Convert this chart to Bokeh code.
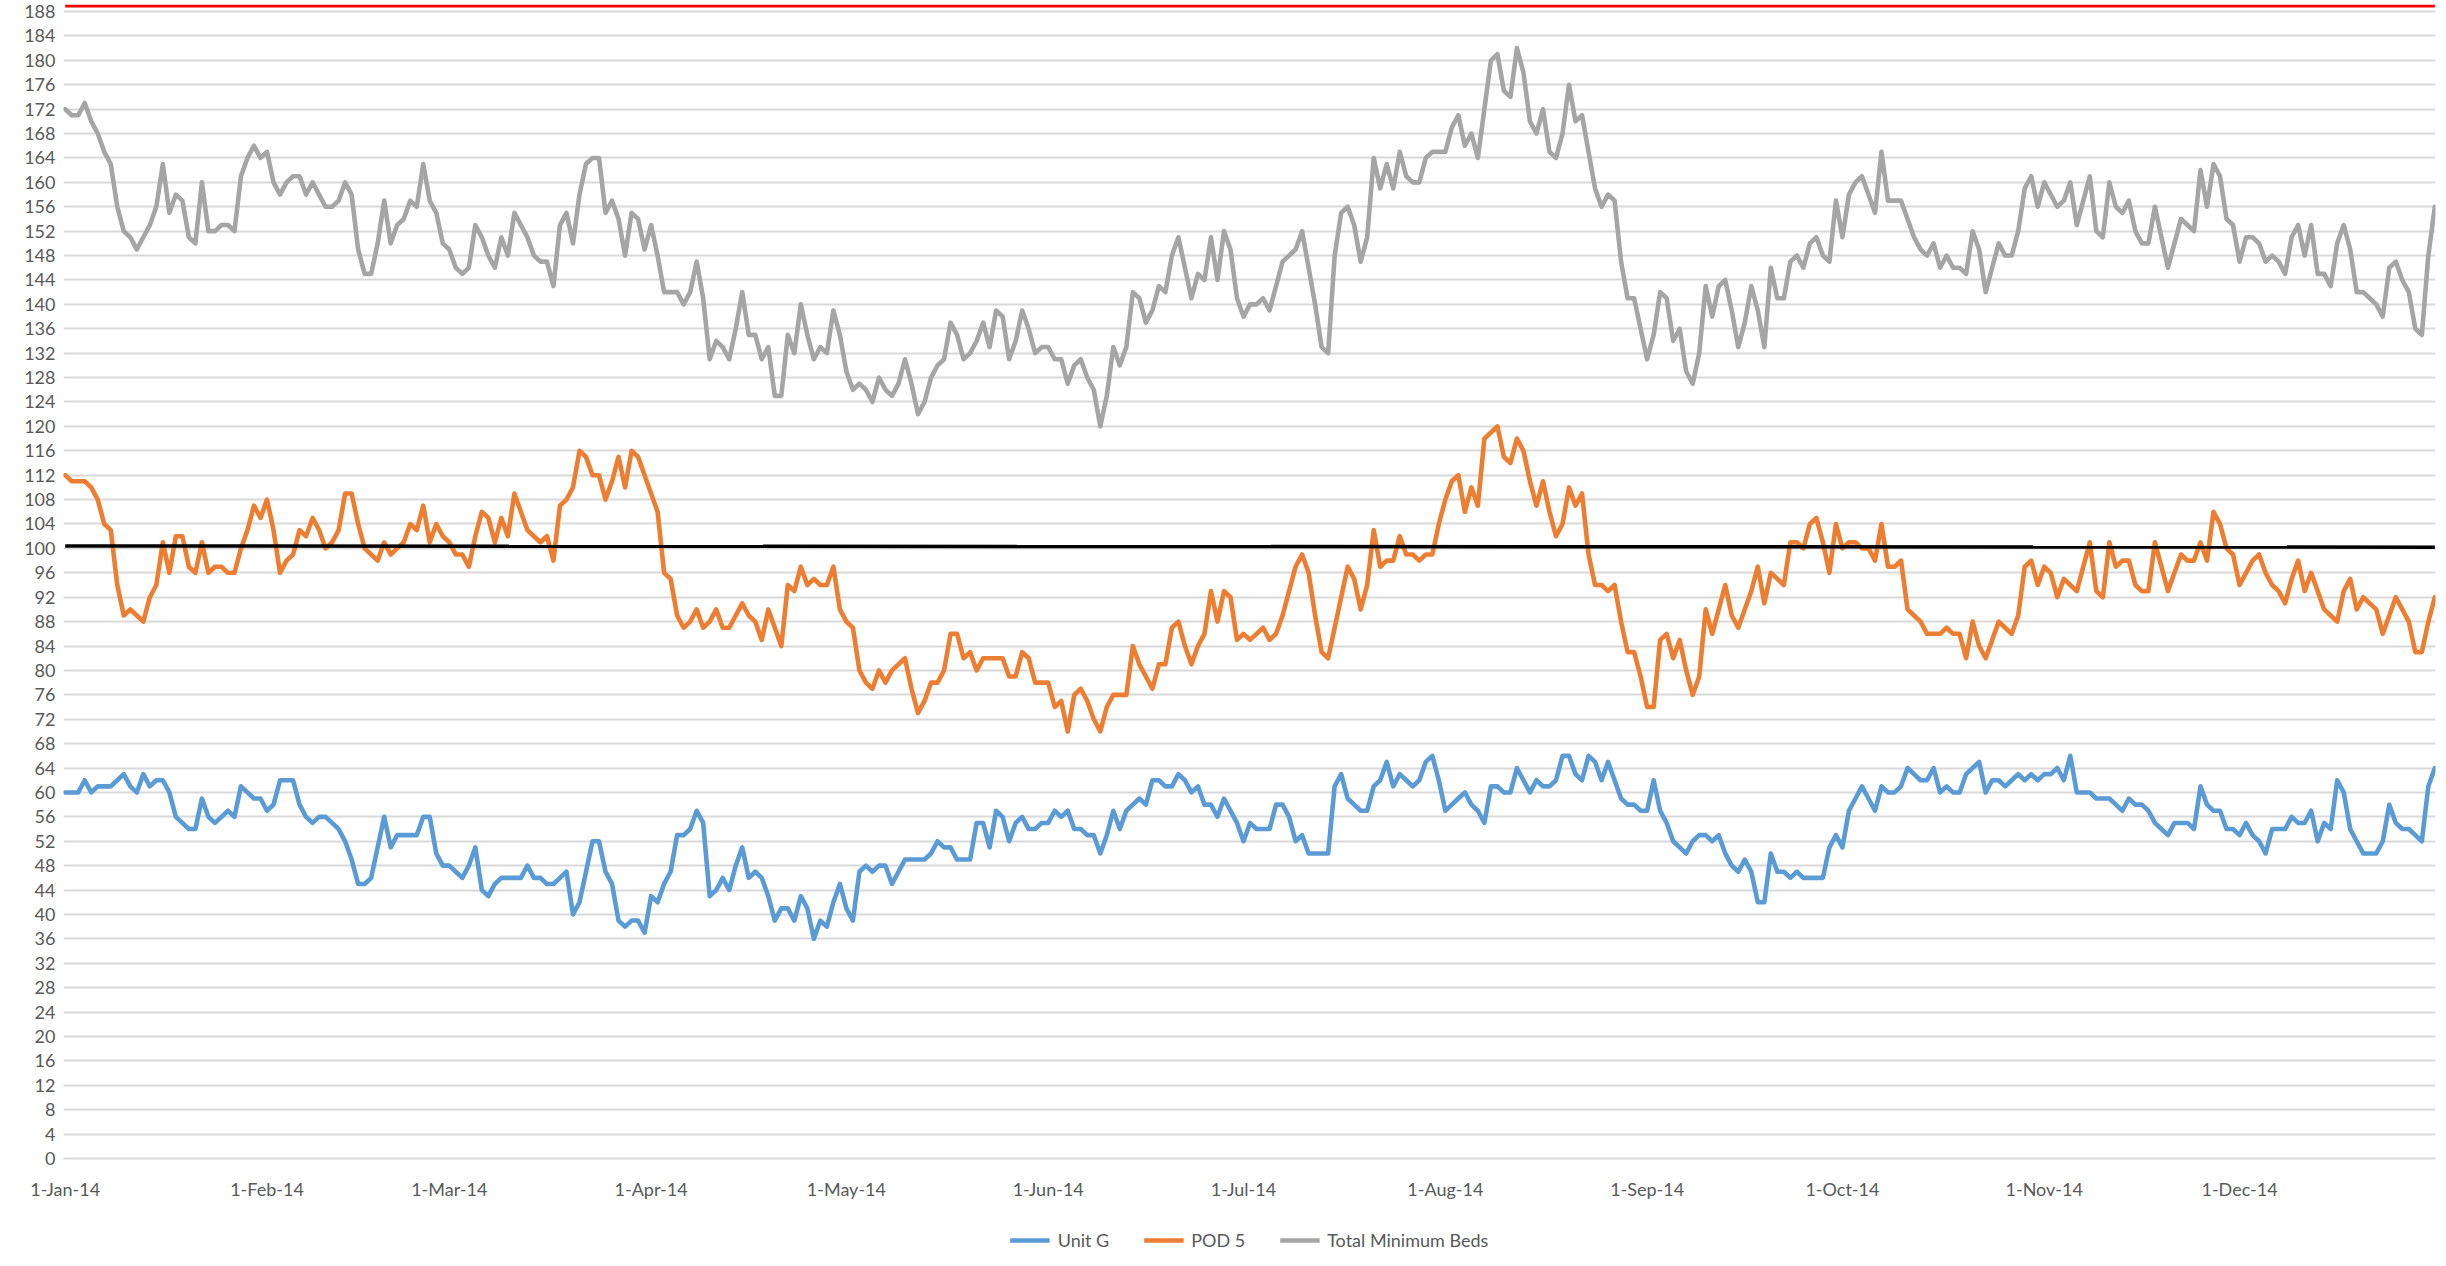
import numpy as np
import pandas as pd
from bokeh.plotting import figure
from bokeh.layouts import column
from bokeh.models import Range1d, FixedTicker, Legend, LegendItem, ColumnDataSource
from bokeh.embed import file_html
from bokeh.resources import INLINE

# ---------------- data (daily, 2014) ----------------
start_date = "2014-01-01"

unit_g = [
    60, 60, 60, 62, 60, 61, 61, 61, 62, 63,
    61, 60, 63, 61, 62, 62, 60, 56, 55, 54,
    54, 59, 56, 55, 56, 57, 56, 61, 60, 59,
    59, 57, 58, 62, 62, 62, 58, 56, 55, 56,
    56, 55, 54, 52, 49, 45, 45, 46, 51, 56,
    51, 53, 53, 53, 53, 56, 56, 50, 48, 48,
    47, 46, 48, 51, 44, 43, 45, 46, 46, 46,
    46, 48, 46, 46, 45, 45, 46, 47, 40, 42,
    47, 52, 52, 47, 45, 39, 38, 39, 39, 37,
    43, 42, 45, 47, 53, 53, 54, 57, 55, 43,
    44, 46, 44, 48, 51, 46, 47, 46, 43, 39,
    41, 41, 39, 43, 41, 36, 39, 38, 42, 45,
    41, 39, 47, 48, 47, 48, 48, 45, 47, 49,
    49, 49, 49, 50, 52, 51, 51, 49, 49, 49,
    55, 55, 51, 57, 56, 52, 55, 56, 54, 54,
    55, 55, 57, 56, 57, 54, 54, 53, 53, 50,
    53, 57, 54, 57, 58, 59, 58, 62, 62, 61,
    61, 63, 62, 60, 61, 58, 58, 56, 59, 57,
    55, 52, 55, 54, 54, 54, 58, 58, 56, 52,
    53, 50, 50, 50, 50, 61, 63, 59, 58, 57,
    57, 61, 62, 65, 61, 63, 62, 61, 62, 65,
    66, 62, 57, 58, 59, 60, 58, 57, 55, 61,
    61, 60, 60, 64, 62, 60, 62, 61, 61, 62,
    66, 66, 63, 62, 66, 65, 62, 65, 62, 59,
    58, 58, 57, 57, 62, 57, 55, 52, 51, 50,
    52, 53, 53, 52, 53, 50, 48, 47, 49, 47,
    42, 42, 50, 47, 47, 46, 47, 46, 46, 46,
    46, 51, 53, 51, 57, 59, 61, 59, 57, 61,
    60, 60, 61, 64, 63, 62, 62, 64, 60, 61,
    60, 60, 63, 64, 65, 60, 62, 62, 61, 62,
    63, 62, 63, 62, 63, 63, 64, 62, 66, 60,
    60, 60, 59, 59, 59, 58, 57, 59, 58, 58,
    57, 55, 54, 53, 55, 55, 55, 54, 61, 58,
    57, 57, 54, 54, 53, 55, 53, 52, 50, 54,
    54, 54, 56, 55, 55, 57, 52, 55, 54, 62,
    60, 54, 52, 50, 50, 50, 52, 58, 55, 54,
    54, 53, 52, 61, 64,
]

pod_5 = [
    112, 111, 111, 111, 110, 108, 104, 103, 94, 89,
    90, 89, 88, 92, 94, 101, 96, 102, 102, 97,
    96, 101, 96, 97, 97, 96, 96, 100, 103, 107,
    105, 108, 103, 96, 98, 99, 103, 102, 105, 103,
    100, 101, 103, 109, 109, 104, 100, 99, 98, 101,
    99, 100, 101, 104, 103, 107, 101, 104, 102, 101,
    99, 99, 97, 102, 106, 105, 101, 105, 102, 109,
    106, 103, 102, 101, 102, 98, 107, 108, 110, 116,
    115, 112, 112, 108, 111, 115, 110, 116, 115, 112,
    109, 106, 96, 95, 89, 87, 88, 90, 87, 88,
    90, 87, 87, 89, 91, 89, 88, 85, 90, 87,
    84, 94, 93, 97, 94, 95, 94, 94, 97, 90,
    88, 87, 80, 78, 77, 80, 78, 80, 81, 82,
    77, 73, 75, 78, 78, 80, 86, 86, 82, 83,
    80, 82, 82, 82, 82, 79, 79, 83, 82, 78,
    78, 78, 74, 75, 70, 76, 77, 75, 72, 70,
    74, 76, 76, 76, 84, 81, 79, 77, 81, 81,
    87, 88, 84, 81, 84, 86, 93, 88, 93, 92,
    85, 86, 85, 86, 87, 85, 86, 89, 93, 97,
    99, 96, 89, 83, 82, 87, 92, 97, 95, 90,
    94, 103, 97, 98, 98, 102, 99, 99, 98, 99,
    99, 104, 108, 111, 112, 106, 110, 107, 118, 119,
    120, 115, 114, 118, 116, 111, 107, 111, 106, 102,
    104, 110, 107, 109, 99, 94, 94, 93, 94, 88,
    83, 83, 79, 74, 74, 85, 86, 82, 85, 80,
    76, 79, 90, 86, 90, 94, 89, 87, 90, 93,
    97, 91, 96, 95, 94, 101, 101, 100, 104, 105,
    101, 96, 104, 100, 101, 101, 100, 100, 98, 104,
    97, 97, 98, 90, 89, 88, 86, 86, 86, 87,
    86, 86, 82, 88, 84, 82, 85, 88, 87, 86,
    89, 97, 98, 94, 97, 96, 92, 95, 94, 93,
    97, 101, 93, 92, 101, 97, 98, 98, 94, 93,
    93, 101, 97, 93, 96, 99, 98, 98, 101, 98,
    106, 104, 100, 99, 94, 96, 98, 99, 96, 94,
    93, 91, 95, 98, 93, 96, 93, 90, 89, 88,
    93, 95, 90, 92, 91, 90, 86, 89, 92, 90,
    88, 83, 83, 88, 92,
]

total_minimum_beds = [
    172, 171, 171, 173, 170, 168, 165, 163, 156, 152,
    151, 149, 151, 153, 156, 163, 155, 158, 157, 151,
    150, 160, 152, 152, 153, 153, 152, 161, 164, 166,
    164, 165, 160, 158, 160, 161, 161, 158, 160, 158,
    156, 156, 157, 160, 158, 149, 145, 145, 150, 157,
    150, 153, 154, 157, 156, 163, 157, 155, 150, 149,
    146, 145, 146, 153, 151, 148, 146, 151, 148, 155,
    153, 151, 148, 147, 147, 143, 153, 155, 150, 158,
    163, 164, 164, 155, 157, 154, 148, 155, 154, 149,
    153, 148, 142, 142, 142, 140, 142, 147, 141, 131,
    134, 133, 131, 136, 142, 135, 135, 131, 133, 125,
    125, 135, 132, 140, 135, 131, 133, 132, 139, 135,
    129, 126, 127, 126, 124, 128, 126, 125, 127, 131,
    127, 122, 124, 128, 130, 131, 137, 135, 131, 132,
    134, 137, 133, 139, 138, 131, 134, 139, 136, 132,
    133, 133, 131, 131, 127, 130, 131, 128, 126, 120,
    125, 133, 130, 133, 142, 141, 137, 139, 143, 142,
    148, 151, 146, 141, 145, 144, 151, 144, 152, 149,
    141, 138, 140, 140, 141, 139, 143, 147, 148, 149,
    152, 146, 140, 133, 132, 148, 155, 156, 153, 147,
    151, 164, 159, 163, 159, 165, 161, 160, 160, 164,
    165, 165, 165, 169, 171, 166, 168, 164, 172, 180,
    181, 175, 174, 182, 178, 170, 168, 172, 165, 164,
    168, 176, 170, 171, 165, 159, 156, 158, 157, 147,
    141, 141, 136, 131, 135, 142, 141, 134, 136, 129,
    127, 132, 143, 138, 143, 144, 139, 133, 137, 143,
    139, 133, 146, 141, 141, 147, 148, 146, 150, 151,
    148, 147, 157, 151, 158, 160, 161, 158, 155, 165,
    157, 157, 157, 154, 151, 149, 148, 150, 146, 148,
    146, 146, 145, 152, 149, 142, 146, 150, 148, 148,
    152, 159, 161, 156, 160, 158, 156, 157, 160, 153,
    157, 161, 152, 151, 160, 156, 155, 157, 152, 150,
    150, 156, 151, 146, 150, 154, 153, 152, 162, 156,
    163, 161, 154, 153, 147, 151, 151, 150, 147, 148,
    147, 145, 151, 153, 148, 153, 145, 145, 143, 150,
    153, 149, 142, 142, 141, 140, 138, 146, 147, 144,
    142, 136, 135, 148, 156,
]

# reference lines (first day, last day)
target_level = [100.4, 100.2]
capacity_level = [188.9, 188.9]

month_labels = ["1-Jan-14", "1-Feb-14", "1-Mar-14", "1-Apr-14", "1-May-14", "1-Jun-14",
                "1-Jul-14", "1-Aug-14", "1-Sep-14", "1-Oct-14", "1-Nov-14", "1-Dec-14"]
y_tick_values = list(range(0, 189, 4))
series_names = ["Unit G", "POD 5", "Total Minimum Beds"]
series_colors = ["#5b9bd5", "#ed7d31", "#a5a5a5"]

# ---------------- build ----------------
dates = pd.date_range(start_date, periods=len(total_minimum_beds), freq="D")
day_index = np.arange(len(dates))
month_starts = pd.date_range(start_date, periods=len(month_labels), freq="MS")
month_days = [int((m - dates[0]).days) for m in month_starts]
last_day = int(day_index[-1])

font = "Lato"
label_color = "#595959"
fs = "18px"
lw = 4.6
W = 2437

p = figure(width=W, height=1230, output_backend="svg", toolbar_location=None,
           x_range=Range1d(-0.26, last_day + 0.1), y_range=Range1d(0, 189.15),
           min_border_left=63, min_border_right=2, min_border_top=4, min_border_bottom=72)
p.outline_line_color = None
p.background_fill_color = "white"
p.border_fill_color = "white"

p.xgrid.grid_line_color = None
p.ygrid.grid_line_color = "#d9d9d9"
p.ygrid.grid_line_width = 2
p.yaxis.ticker = FixedTicker(ticks=y_tick_values)
p.yaxis.axis_line_color = None
p.yaxis.major_tick_line_color = None
p.yaxis.minor_tick_line_color = None
p.yaxis.major_tick_out = 0
p.yaxis.major_tick_in = 0
p.yaxis.major_label_text_font = font
p.yaxis.major_label_text_font_size = fs
p.yaxis.major_label_text_color = label_color
p.yaxis.major_label_standoff = 8

p.xaxis.ticker = FixedTicker(ticks=month_days)
p.xaxis.major_label_overrides = {d: lab for d, lab in zip(month_days, month_labels)}
p.xaxis.axis_line_color = "#d9d9d9"
p.xaxis.axis_line_width = 2
p.xaxis.major_tick_line_color = None
p.xaxis.minor_tick_line_color = None
p.xaxis.major_tick_out = 0
p.xaxis.major_tick_in = 0
p.xaxis.major_label_text_font = font
p.xaxis.major_label_text_font_size = fs
p.xaxis.major_label_text_color = label_color
p.xaxis.major_label_standoff = 19

series = [unit_g, pod_5, total_minimum_beds]
for vals, col in zip(series, series_colors):
    src = ColumnDataSource(dict(x=np.arange(len(vals)), y=vals))
    p.line("x", "y", source=src, line_color=col, line_width=lw, line_join="round", line_cap="round")
p.line([0, last_day], target_level, line_color="black", line_width=3.5)
p.line([0, last_day], capacity_level, line_color="#ff0000", line_width=3)

# legend strip below the chart
lf = figure(width=W, height=20, output_backend="svg", toolbar_location=None,
            x_range=Range1d(0, 1), y_range=Range1d(0, 1),
            x_axis_location=None, y_axis_location=None, min_border=0)
lf.outline_line_color = None
lf.grid.visible = False
items = []
for name, col in zip(series_names, series_colors):
    # off-range dummy line: only its legend swatch is visible
    r = lf.line([5, 6], [5, 5], line_color=col, line_width=lw)
    items.append(LegendItem(label=name, renderers=[r]))
legend = Legend(items=items, orientation="horizontal", location="center",
                label_text_font=font, label_text_font_size=fs, label_text_color=label_color,
                glyph_width=40, glyph_height=18, label_height=18, label_standoff=8, spacing=34,
                border_line_color=None, background_fill_alpha=0, margin=0, padding=0)
lf.add_layout(legend, "center")

open("out.html", "w").write(file_html(column(p, lf, spacing=0), INLINE))
